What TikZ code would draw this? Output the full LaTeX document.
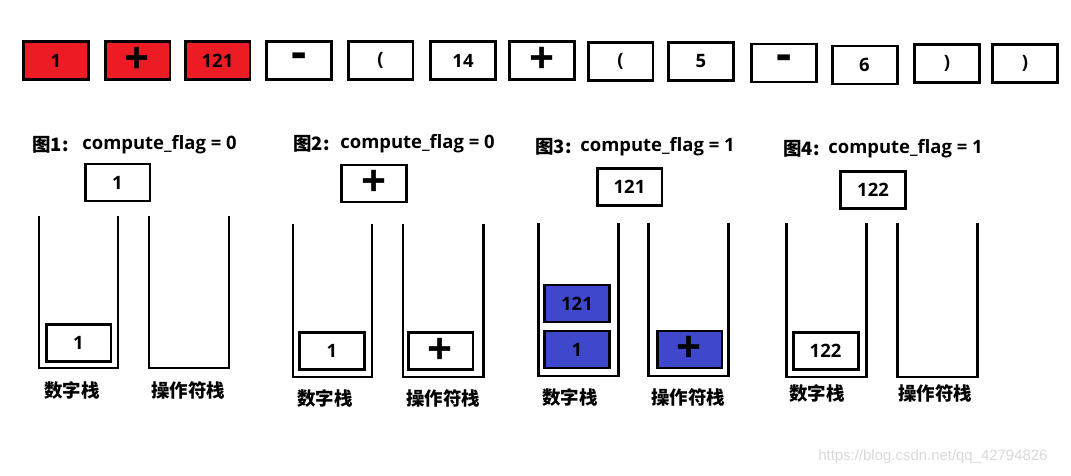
\documentclass[tikz,border=0pt]{standalone}
\usepackage{fontspec}
\setmainfont{Open Sans}
\newfontfamily\cjk{Noto Sans CJK SC}
\newfontfamily\wmfont{Liberation Sans}
\usetikzlibrary{positioning}
\definecolor{tokred}{RGB}{237,28,36}
\definecolor{cellblue}{RGB}{63,72,204}

\begin{document}
\begin{tikzpicture}[x=0.02cm, y=-0.02cm, font=\fontsize{10.5}{12}\selectfont\bfseries,
        tok/.style={draw, line width=1.7pt, minimum width=1.3cm, minimum height=0.76cm, inner sep=0pt},
        cell/.style={draw, line width=1.7pt, minimum width=1.3cm, minimum height=0.74cm, inner sep=0pt},
        plain/.style={},
        opsign/.style={font=\fontsize{25}{25}\selectfont\bfseries},
        minussign/.style={font=\fontsize{27}{27}\selectfont\bfseries},
        cup/.style={draw, line width=1.7pt},
        lbl/.style={font=\cjk\fontsize{10.5}{12}\selectfont\bfseries},
        fig/.style={anchor=west, inner sep=0pt, font=\cjk\fontsize{10.5}{12}\selectfont\bfseries},
        ttl/.style={anchor=west, inner sep=0pt},
      ]
        \useasboundingbox (0,0) rectangle (1071,476);

        % Expression tokens
        \foreach \i/\x/\y/\t/\c/\s in {1/56/60.5/1/tokred/plain, 2/137.5/60.5/+/tokred/opsign, 3/217.5/60.5/121/tokred/plain,
            4/299/60.5/-/white/minussign, 5/380.5/60.5/(/white/plain, 6/463/60.5/14/white/plain, 7/542/60.5/+/white/opsign,
            8/620.5/61.5/(/white/plain, 9/701/61.5/5/white/plain, 10/784/63/-/white/minussign, 11/864.5/65/6/white/plain,
            12/947/63.5/)/white/plain, 13/1025/63.5/)/white/plain} {
          \node[tok, fill=\c] (tok\i) at (\x,\y) {};
          \node[\s] at (tok\i) {\t};
        }

        % Titles
        \node[fig] (fig1) at (32,145) {图1:};
        \node[ttl] (flag1) at (82,145) {compute\_flag = 0};
        \node[fig] (fig2) at (293,144) {图2:};
        \node[ttl] (flag2) at (340,144) {compute\_flag = 0};
        \node[fig] (fig3) at (535,147) {图3:};
        \node[ttl] (flag3) at (580,147) {compute\_flag = 1};
        \node[fig] (fig4) at (783,149) {图4:};
        \node[ttl] (flag4) at (828,149) {compute\_flag = 1};

        % Incoming items
        \node[cell] (in1) at (117.5,182.5) {1};
        \node[cell] (in2) at (374,183.5) {};
        \node[opsign] at (in2) {+};
        \node[cell] (in3) at (629.5,187) {121};
        \node[cell] (in4) at (873,190) {122};

        % Stacks (open at the top)
        \foreach \a/\b/\t/\bt in {39/118/216/368, 149/229/216/368, 293/372/224/377, 403/483/224/377,
            538/618/223/376, 648/728/223/376, 786/866/223/377, 897/977/223/377} {
          \draw[cup] (\a,\t) |- (\b,\bt) -- (\b,\t);
        }

        % Stack contents
        \node[cell] (num1a) at (78.5,343) {1};
        \node[cell] (num2a) at (332,351) {1};
        \node[cell] (opr2a) at (440.5,351) {};
        \node[opsign] at (opr2a) {+};
        \node[cell, fill=cellblue] (num3a) at (577,349.5) {1};
        \node[cell, fill=cellblue] (num3b) at (577,303.5) {121};
        \node[cell, fill=cellblue] (opr3a) at (689.5,349.5) {};
        \node[opsign] at (opr3a) {+};
        \node[cell] (num4a) at (825.5,351) {122};

        % Stack names
        \foreach \x/\y/\t [count=\i] in {72/390/数字栈, 188/390/操作符栈, 325/398/数字栈, 443/398/操作符栈,
            570/397/数字栈, 688/397/操作符栈, 817/393/数字栈, 935/393/操作符栈} {
          \node[lbl] (name\i) at (\x,\y) {\t};
        }

        % Watermark
        \node[font=\wmfont\fontsize{8.5}{10}\selectfont, text=black!15, anchor=west, inner sep=0pt] (wm) at (818,457)
          {https://blog.csdn.net/qq\_42794826};
      \end{tikzpicture}
\end{document}
